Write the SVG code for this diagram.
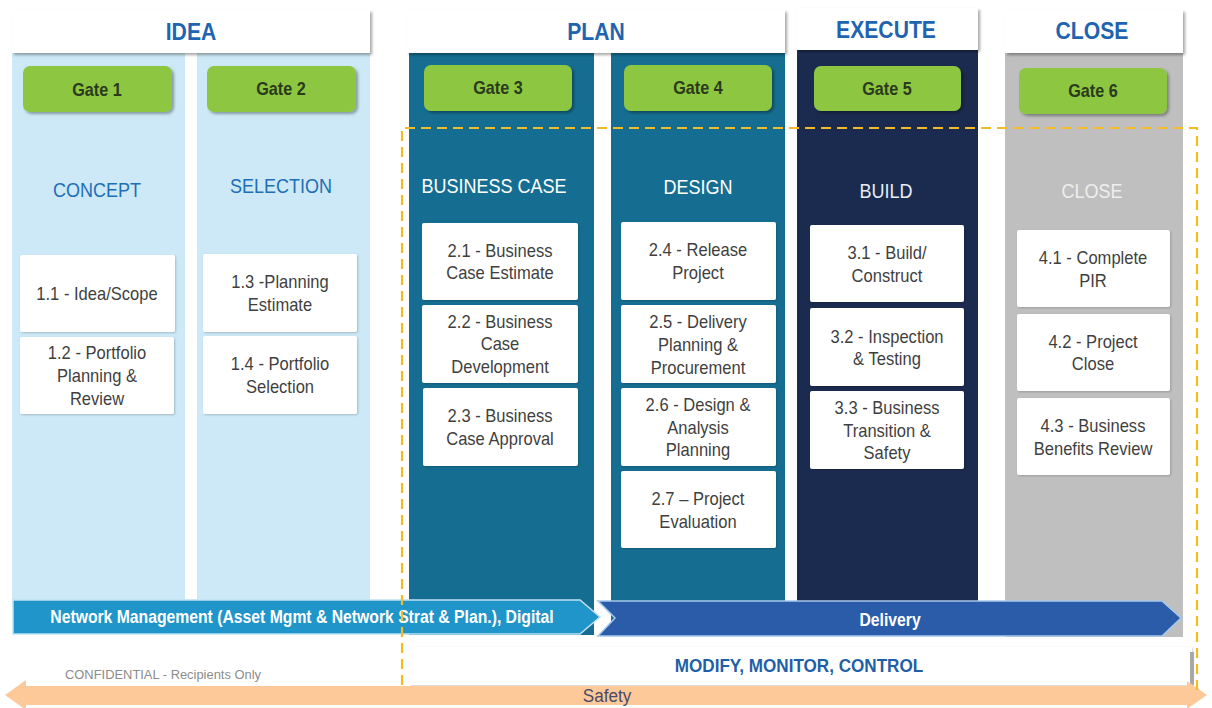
<svg xmlns="http://www.w3.org/2000/svg" width="1212" height="708" viewBox="0 0 1212 708">
<defs>
<filter id="sh" x="-10%" y="-10%" width="130%" height="140%">
<feDropShadow dx="2" dy="2" stdDeviation="1.5" flood-color="#000" flood-opacity="0.35"/>
</filter>
<filter id="shl" x="-10%" y="-10%" width="130%" height="140%">
<feDropShadow dx="1" dy="1" stdDeviation="1" flood-color="#000" flood-opacity="0.2"/>
</filter>
</defs>
<style>
text{font-family:"Liberation Sans",Arial,sans-serif;text-anchor:middle;dominant-baseline:central;transform-box:fill-box;transform-origin:center;transform:scaleX(0.9)}
.hdr{fill:#fff;filter:url(#sh)}
.hdrt{font-size:23.5px;font-weight:bold;fill:#1f64b0}
.gate{fill:#8dc63f;filter:url(#sh)}
.gatet{font-size:18px;font-weight:bold;fill:#2b3a1c}
.box{fill:#fff;filter:url(#shl)}
.bt{font-size:18px;fill:#3f3f3f;transform:scaleX(0.92)}
.sec{font-size:20px}
.c1{fill:#cde9f7}.c3{fill:#156e91}.c5{fill:#1b2b4f}.c6{fill:#bfbfbf}
</style>
<g id="columns">
<rect class="c1" x="12" y="50" width="173" height="555"/>
<rect class="c1" x="197" y="50" width="173" height="555"/>
<rect class="c3" x="409" y="50" width="185" height="585"/>
<rect class="c3" x="611" y="50" width="174" height="585"/>
<rect class="c5" x="797" y="48" width="181" height="587"/>
<rect class="c6" x="1005" y="50" width="178" height="587"/>
</g>
<g id="headers">
<g id="h-idea"><rect class="hdr" x="12" y="10" width="358" height="43"/><text class="hdrt" x="191" y="32">IDEA</text></g>
<g id="h-plan"><rect class="hdr" x="407" y="10" width="378" height="43"/><text class="hdrt" x="596" y="32">PLAN</text></g>
<g id="h-execute"><rect class="hdr" x="797" y="8" width="181" height="42"/><text class="hdrt" x="886" y="30">EXECUTE</text></g>
<g id="h-close"><rect class="hdr" x="1005" y="10" width="178" height="43"/><text class="hdrt" x="1092" y="31">CLOSE</text></g>
</g>
<g id="gates">
<g id="gate1"><rect class="gate" x="23" y="66" width="149" height="46" rx="7"/><text class="gatet" x="97" y="90">Gate 1</text></g>
<g id="gate2"><rect class="gate" x="207" y="66" width="149" height="46" rx="7"/><text class="gatet" x="281" y="89">Gate 2</text></g>
<g id="gate3"><rect class="gate" x="424" y="65" width="148" height="46" rx="7"/><text class="gatet" x="498" y="88">Gate 3</text></g>
<g id="gate4"><rect class="gate" x="624" y="65" width="148" height="46" rx="7"/><text class="gatet" x="698" y="88">Gate 4</text></g>
<g id="gate5"><rect class="gate" x="814" y="66" width="147" height="45" rx="7"/><text class="gatet" x="887" y="89">Gate 5</text></g>
<g id="gate6"><rect class="gate" x="1019" y="68" width="148" height="46" rx="7"/><text class="gatet" x="1093" y="91">Gate 6</text></g>
</g>
<g id="sections">
<text class="sec" x="97" y="190" fill="#1f6fb4">CONCEPT</text>
<text class="sec" x="281" y="186" fill="#1f6fb4">SELECTION</text>
<text class="sec" x="494" y="186" fill="#fff">BUSINESS CASE</text>
<text class="sec" x="698" y="187" fill="#fff">DESIGN</text>
<text class="sec" x="886" y="191" fill="#e8ecf3">BUILD</text>
<text class="sec" x="1092" y="191" fill="#eeeeee">CLOSE</text>
</g>
<g id="steps">
<g id="s11"><rect class="box" x="20" y="255" width="155" height="77" rx="2"/><text class="bt" x="97" y="294">1.1 - Idea/Scope</text></g>
<g id="s12"><rect class="box" x="20" y="337" width="154" height="77" rx="2"/><text class="bt" x="97" y="353">1.2 - Portfolio</text><text class="bt" x="97" y="376">Planning &amp;</text><text class="bt" x="97" y="399">Review</text></g>
<g id="s13"><rect class="box" x="203" y="254" width="154" height="78" rx="2"/><text class="bt" x="280" y="282">1.3 -Planning</text><text class="bt" x="280" y="305">Estimate</text></g>
<g id="s14"><rect class="box" x="203" y="336" width="154" height="78" rx="2"/><text class="bt" x="280" y="364">1.4 - Portfolio</text><text class="bt" x="280" y="387">Selection</text></g>
<g id="s21"><rect class="box" x="422" y="223" width="156" height="77" rx="2"/><text class="bt" x="500" y="251">2.1 - Business</text><text class="bt" x="500" y="273">Case Estimate</text></g>
<g id="s22"><rect class="box" x="422" y="305" width="156" height="78" rx="2"/><text class="bt" x="500" y="322">2.2 - Business</text><text class="bt" x="500" y="344">Case</text><text class="bt" x="500" y="367">Development</text></g>
<g id="s23"><rect class="box" x="423" y="388" width="155" height="78" rx="2"/><text class="bt" x="500" y="416">2.3 - Business</text><text class="bt" x="500" y="439">Case Approval</text></g>
<g id="s24"><rect class="box" x="621" y="222" width="155" height="78" rx="2"/><text class="bt" x="698" y="250">2.4 - Release</text><text class="bt" x="698" y="273">Project</text></g>
<g id="s25"><rect class="box" x="621" y="305" width="155" height="78" rx="2"/><text class="bt" x="698" y="322">2.5 - Delivery</text><text class="bt" x="698" y="345">Planning &amp;</text><text class="bt" x="698" y="368">Procurement</text></g>
<g id="s26"><rect class="box" x="621" y="388" width="155" height="78" rx="2"/><text class="bt" x="698" y="405">2.6 - Design &amp;</text><text class="bt" x="698" y="428">Analysis</text><text class="bt" x="698" y="450">Planning</text></g>
<g id="s27"><rect class="box" x="621" y="471" width="155" height="77" rx="2"/><text class="bt" x="698" y="499">2.7 – Project</text><text class="bt" x="698" y="522">Evaluation</text></g>
<g id="s31"><rect class="box" x="810" y="225" width="154" height="77" rx="2"/><text class="bt" x="887" y="253">3.1 - Build/</text><text class="bt" x="887" y="276">Construct</text></g>
<g id="s32"><rect class="box" x="810" y="308" width="154" height="78" rx="2"/><text class="bt" x="887" y="337">3.2 - Inspection</text><text class="bt" x="887" y="359">&amp; Testing</text></g>
<g id="s33"><rect class="box" x="810" y="391" width="154" height="78" rx="2"/><text class="bt" x="887" y="408">3.3 - Business</text><text class="bt" x="887" y="431">Transition &amp;</text><text class="bt" x="887" y="453">Safety</text></g>
<g id="s41"><rect class="box" x="1017" y="230" width="153" height="77" rx="2"/><text class="bt" x="1093" y="258">4.1 - Complete</text><text class="bt" x="1093" y="281">PIR</text></g>
<g id="s42"><rect class="box" x="1017" y="314" width="153" height="77" rx="2"/><text class="bt" x="1093" y="342">4.2 - Project</text><text class="bt" x="1093" y="364">Close</text></g>
<g id="s43"><rect class="box" x="1017" y="398" width="153" height="77" rx="2"/><text class="bt" x="1093" y="426">4.3 - Business</text><text class="bt" x="1093" y="449">Benefits Review</text></g>
</g>
<g id="bands">
<g id="network"><polygon points="13,600 580,600 600,617 580,634 13,634" fill="#1f95c9" stroke="#bfe2f3" stroke-width="1.5"/><text x="302" y="617" font-size="17.5" font-weight="bold" fill="#fff">Network Management (Asset Mgmt &amp; Network Strat &amp; Plan.), Digital</text></g>
<g id="delivery"><polygon points="598,601 1162,601 1181,618 1162,636 598,636 615,618" fill="#2a5caa" stroke="#a6c8ec" stroke-width="1.5"/><text x="890" y="620" font-size="17.5" font-weight="bold" fill="#fff">Delivery</text></g>
<g id="modify"><rect x="410" y="647" width="782" height="38" fill="#fff" filter="url(#shl)"/><rect x="1190" y="652" width="4" height="33" fill="#a8a8a8"/><text x="799" y="666" font-size="19" font-weight="bold" fill="#1f5fa8">MODIFY, MONITOR, CONTROL</text></g>
<text x="163" y="675" font-size="12" fill="#8c8c8c" textLength="196" lengthAdjust="spacingAndGlyphs" style="transform:none">CONFIDENTIAL  - Recipients Only</text>
<g id="safety"><polygon points="5,695 26,680 26,686 1187,686 1187,681 1207,695 1187,709 1187,705 26,705 26,710" fill="#fdc999"/><text x="607" y="696" font-size="19" fill="#4a4a6a">Safety</text></g>
</g>
<g id="connectors">
<path d="M402,685 V128 H1197 V692" fill="none" stroke="#f4bc22" stroke-width="2.2" stroke-dasharray="10,6"/>
</g>
</svg>
